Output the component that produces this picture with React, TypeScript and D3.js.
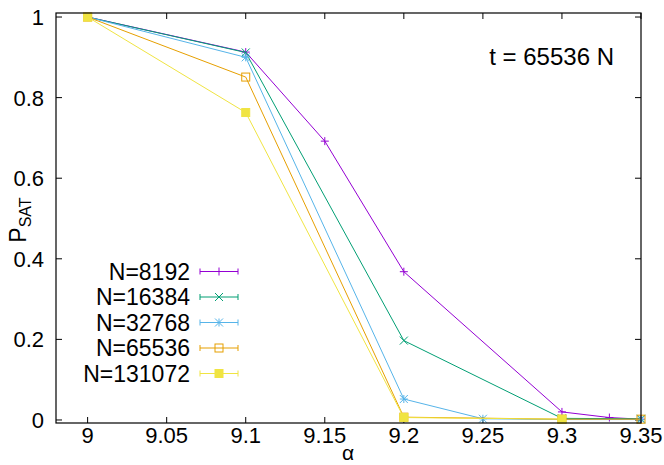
import React from 'react';
import * as d3 from 'd3';

const alphaTicks = [9, 9.05, 9.1, 9.15, 9.2, 9.25, 9.3, 9.35];
const pTicks = [0, 0.2, 0.4, 0.6, 0.8, 1];

const n8192 = [[9, 1], [9.1, 0.913], [9.15, 0.692], [9.2, 0.368], [9.3, 0.02], [9.33, 0.006], [9.35, 0.002]];
const n16384 = [[9, 1], [9.1, 0.912], [9.2, 0.197], [9.3, 0.004], [9.35, 0.003]];
const n32768 = [[9, 1], [9.1, 0.9], [9.2, 0.052], [9.25, 0.003], [9.3, 0.001], [9.35, 0.001]];
const n65536 = [[9, 1], [9.1, 0.851], [9.2, 0.007], [9.3, 0.002], [9.35, 0.002]];
const n131072 = [[9, 1], [9.1, 0.763], [9.2, 0.006], [9.3, 0.002]];

const seriesNames = ['N=8192', 'N=16384', 'N=32768', 'N=65536', 'N=131072'];
const seriesData = [n8192, n16384, n32768, n65536, n131072];
const colors = ['#9400d3', '#009e73', '#56b4e9', '#e69f00', '#f0e442'];
const markers = ['plus', 'cross', 'star', 'square', 'filled'];

const W = 664;
const H = 465;
const m = { left: 56, right: 641, top: 13, bottom: 423 };
const font = '"Liberation Sans", Arial, Helvetica, sans-serif';

function Marker({ kind, x, y, color }: { kind: string; x: number; y: number; color: string }) {
  const s = 4;
  if (kind === 'plus') {
    return <path d={`M${x - s},${y}H${x + s}M${x},${y - s}V${y + s}`} stroke={color} strokeWidth={1} />;
  }
  if (kind === 'cross') {
    return <path d={`M${x - s},${y - s}L${x + s},${y + s}M${x - s},${y + s}L${x + s},${y - s}`} stroke={color} strokeWidth={1} />;
  }
  if (kind === 'star') {
    return (
      <path
        d={`M${x - s},${y}H${x + s}M${x},${y - s}V${y + s}M${x - s},${y - s}L${x + s},${y + s}M${x - s},${y + s}L${x + s},${y - s}`}
        stroke={color}
        strokeWidth={1}
      />
    );
  }
  if (kind === 'square') {
    return <rect x={x - s} y={y - s} width={2 * s} height={2 * s} fill="none" stroke={color} strokeWidth={1} />;
  }
  return <rect x={x - s} y={y - s} width={2 * s} height={2 * s} fill={color} stroke={color} strokeWidth={1} />;
}

export default function App() {
  const x = d3.scaleLinear().domain([8.98, 9.35]).range([m.left, m.right]);
  const y = d3.scaleLinear().domain([-0.0075, 1.01]).range([m.bottom, m.top]);
  const line = d3
    .line<number[]>()
    .x((d) => x(d[0]))
    .y((d) => y(d[1]));

  const legendY = [271.5, 297, 322.5, 348, 373.5];

  return (
    <svg
      width={W}
      height={H}
      style={{ position: 'absolute', left: 0, top: 0, background: '#fff' }}
      fontFamily={font}
    >
      {/* ticks, mirrored on all sides */}
      {alphaTicks.map((t) => (
        <g key={'x' + t}>
          <line x1={x(t)} x2={x(t)} y1={m.bottom} y2={m.bottom - 6} stroke="#000" />
          <line x1={x(t)} x2={x(t)} y1={m.top} y2={m.top + 6} stroke="#000" />
          <text x={x(t)} y={443} textAnchor="middle" fontSize={22}>
            {String(t)}
          </text>
        </g>
      ))}
      {pTicks.map((t) => (
        <g key={'y' + t}>
          <line x1={m.left} x2={m.left + 6} y1={y(t)} y2={y(t)} stroke="#000" />
          <line x1={m.right} x2={m.right - 6} y1={y(t)} y2={y(t)} stroke="#000" />
          <text x={44} y={y(t) + 8} textAnchor="end" fontSize={22}>
            {String(t)}
          </text>
        </g>
      ))}

      {/* series */}
      {seriesData.map((data, i) => (
        <g key={seriesNames[i]}>
          <path d={line(data) || ''} fill="none" stroke={colors[i]} strokeWidth={1} />
          {data.map((d, j) => (
            <Marker key={j} kind={markers[i]} x={x(d[0])} y={y(d[1])} color={colors[i]} />
          ))}
        </g>
      ))}

      {/* legend */}
      {seriesNames.map((name, i) => (
        <g key={'leg' + name}>
          <text x={190} y={legendY[i] + 8} textAnchor="end" fontSize={23}>
            {name}
          </text>
          <line x1={200} x2={238} y1={legendY[i]} y2={legendY[i]} stroke={colors[i]} />
          <line x1={200} x2={200} y1={legendY[i] - 3} y2={legendY[i] + 3} stroke={colors[i]} />
          <line x1={238} x2={238} y1={legendY[i] - 3} y2={legendY[i] + 3} stroke={colors[i]} />
          <Marker kind={markers[i]} x={219} y={legendY[i]} color={colors[i]} />
        </g>
      ))}

      <text x={614} y={65} textAnchor="end" fontSize={24}>
        t = 65536 N
      </text>

      {/* frame */}
      <rect
        x={m.left}
        y={m.top}
        width={m.right - m.left}
        height={m.bottom - m.top}
        fill="none"
        stroke="#000"
        strokeWidth={1.2}
      />

      <text transform="translate(26,220) rotate(-90)" textAnchor="middle" fontSize={23}>
        P<tspan fontSize={16} dy={5}>SAT</tspan>
      </text>
      <text x={348} y={460} textAnchor="middle" fontSize={21}>
        α
      </text>
    </svg>
  );
}
